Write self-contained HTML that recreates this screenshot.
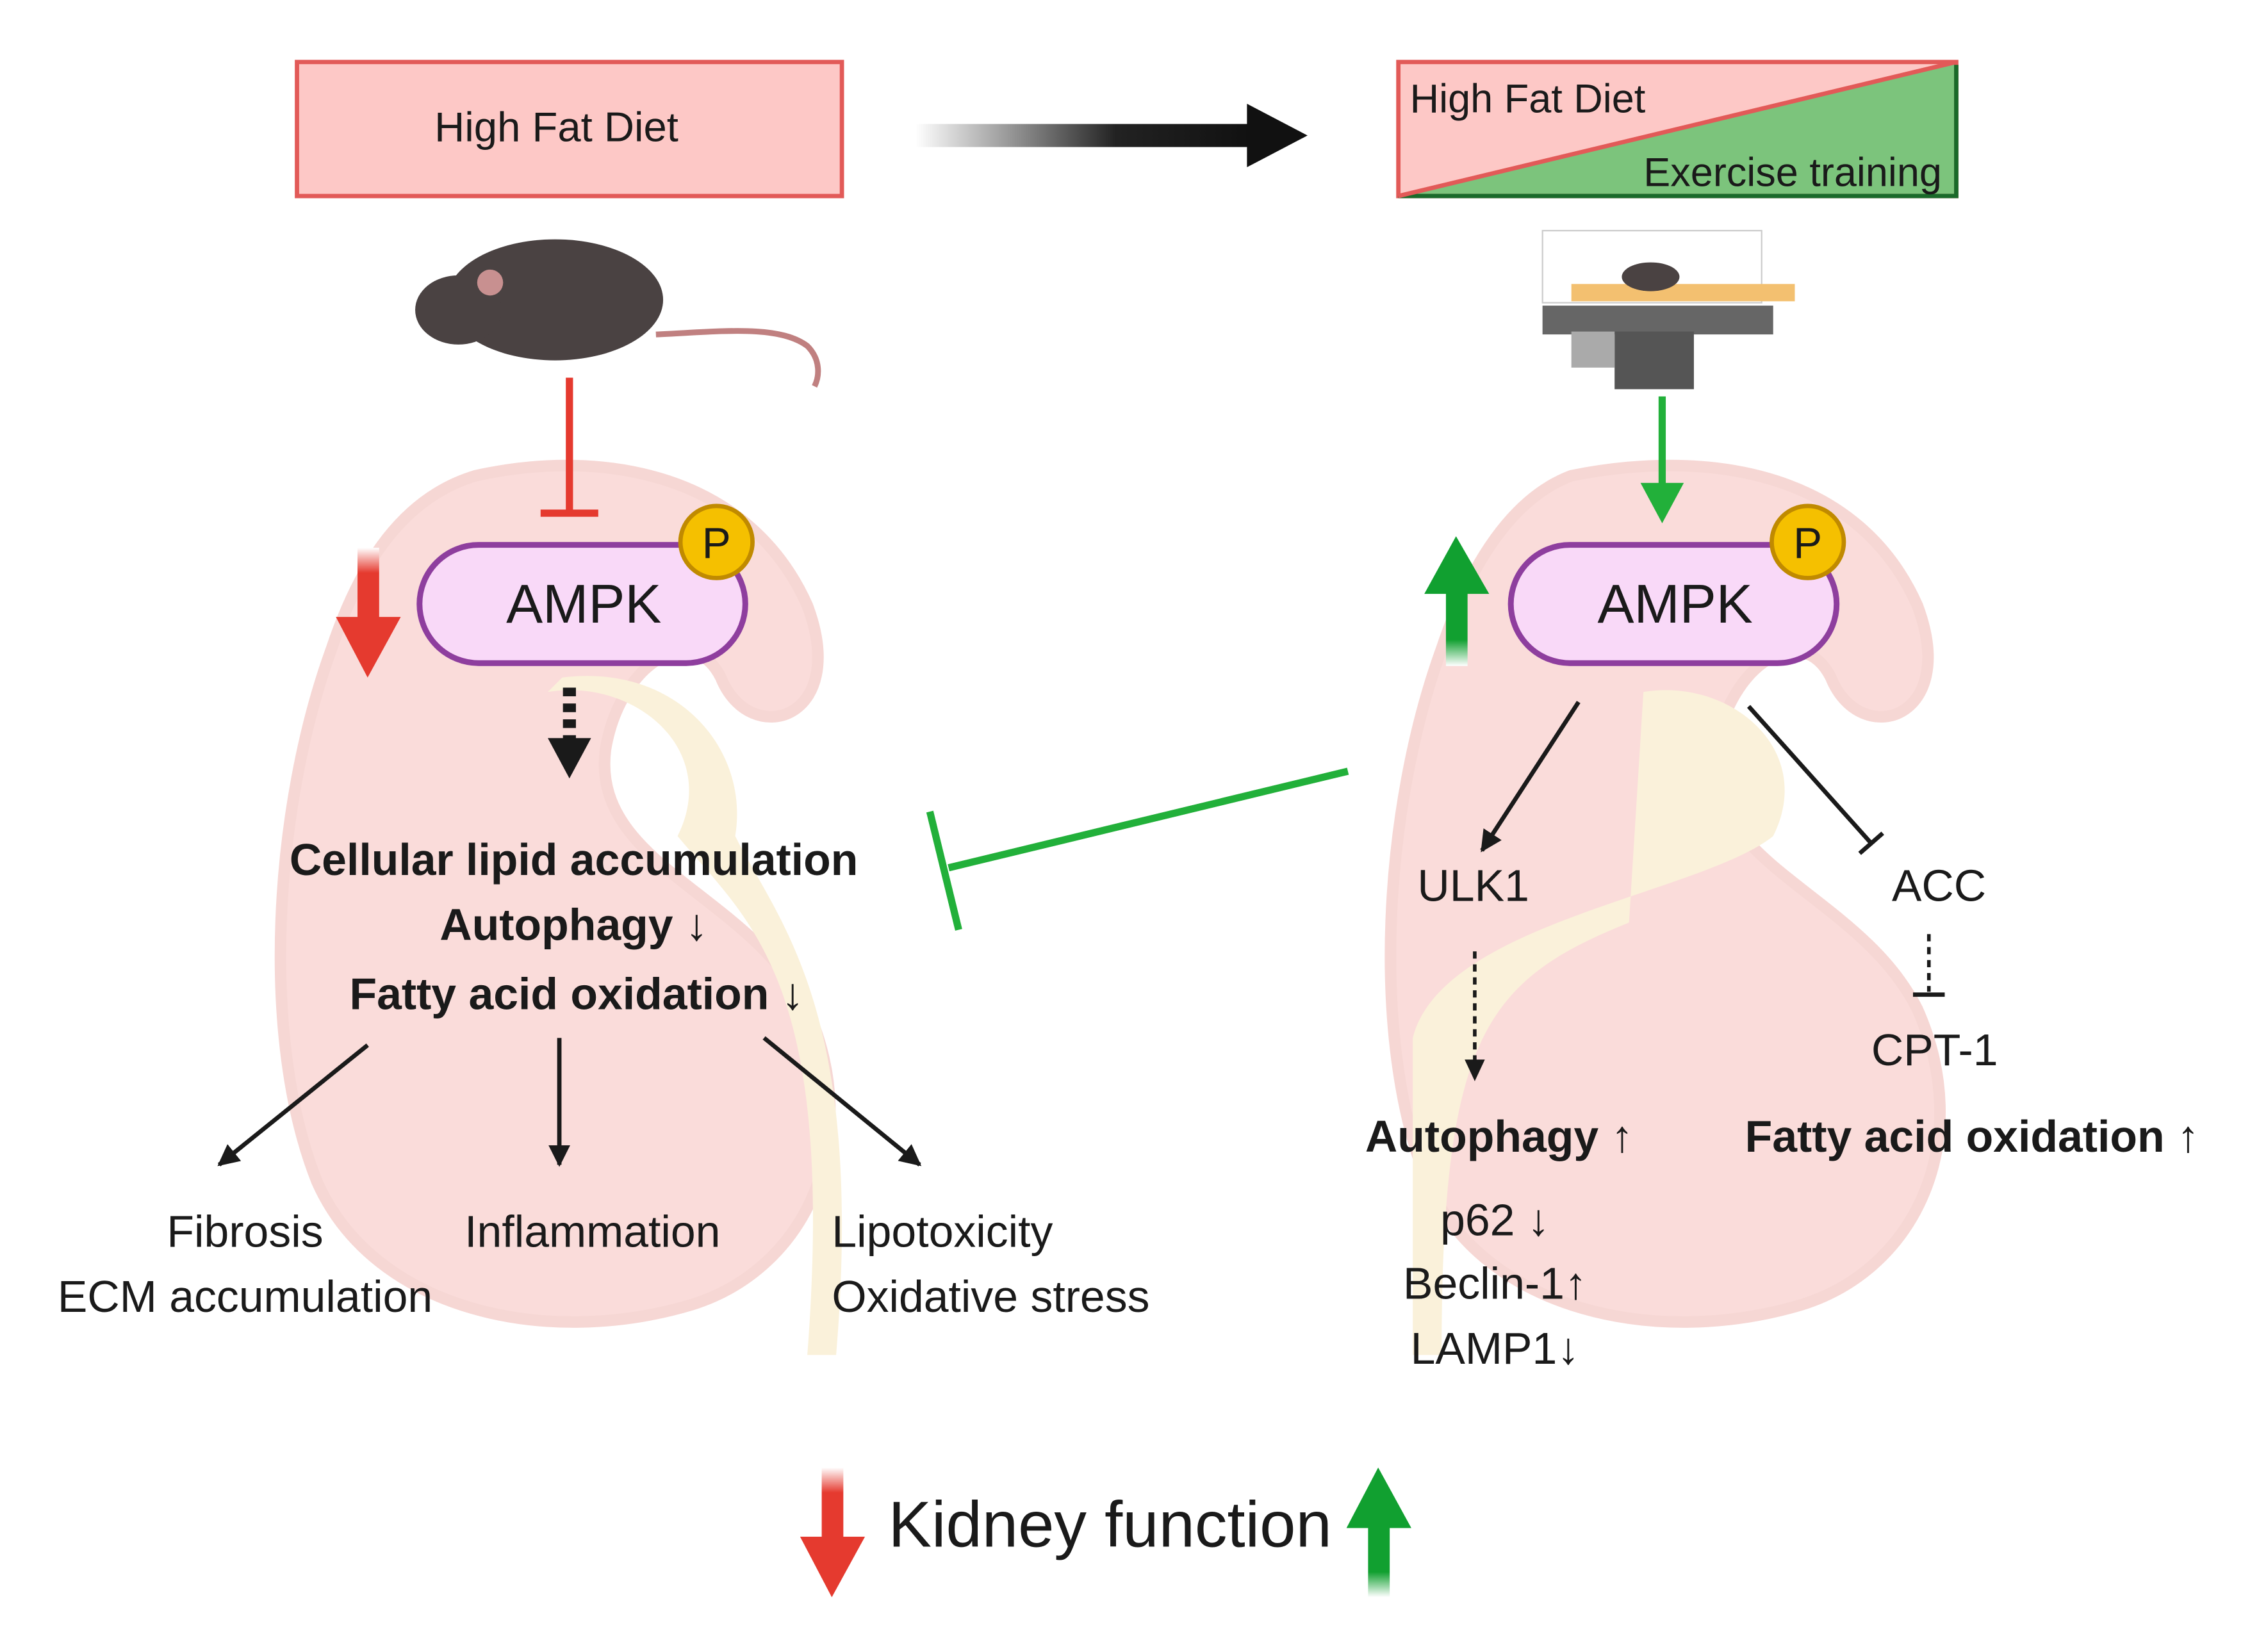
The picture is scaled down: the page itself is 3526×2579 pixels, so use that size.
<!DOCTYPE html>
<html><head><meta charset="utf-8"><style>
html,body{margin:0;padding:0;background:#fff;width:3526px;height:2579px;overflow:hidden}
svg{display:block}
text{font-family:"Liberation Sans",sans-serif;fill:#1a1a1a}
.b{font-weight:bold}
</style></head><body>
<svg width="3526" height="2579" viewBox="0 0 1567 1146" preserveAspectRatio="none" xmlns="http://www.w3.org/2000/svg">
<defs>
<linearGradient id="ga" x1="0" x2="1"><stop offset="0" stop-color="#fff"/><stop offset="0.6" stop-color="#222"/><stop offset="1" stop-color="#111"/></linearGradient>
<linearGradient id="gr" x1="0" y1="0" x2="0" y2="1"><stop offset="0" stop-color="#fff"/><stop offset="0.35" stop-color="#e53a2f"/><stop offset="1" stop-color="#e53a2f"/></linearGradient>
<linearGradient id="gg" x1="0" y1="1" x2="0" y2="0"><stop offset="0" stop-color="#fff"/><stop offset="0.35" stop-color="#11a030"/><stop offset="1" stop-color="#11a030"/></linearGradient>
<marker id="ah" viewBox="0 0 10 10" refX="9" refY="5" markerWidth="5" markerHeight="5" orient="auto"><path d="M0,0L10,5L0,10z" fill="#1a1a1a"/></marker>
</defs>
<g opacity="0.38">
<path d="M330,330 C420,310 520,330 560,420 C590,500 520,520 500,470 C480,430 430,460 420,520 C410,600 520,620 560,700 C600,790 560,880 480,905 C380,935 260,910 220,820 C180,720 190,560 230,450 C250,390 280,345 330,330Z" fill="#f4a6a0" stroke="#e89890" stroke-width="8"/>
<path d="M1090,330 C1190,310 1290,330 1330,420 C1360,500 1290,520 1270,470 C1250,430 1200,460 1190,520 C1180,600 1290,620 1330,700 C1370,790 1330,880 1250,905 C1150,935 1030,910 990,820 C950,720 960,560 1000,450 C1020,390 1050,345 1090,330Z" fill="#f4a6a0" stroke="#e89890" stroke-width="8"/>
<path d="M380,480 C440,470 500,520 470,580 C520,640 580,680 560,940 L580,940 C600,700 540,640 510,580 C520,520 470,460 390,470Z" fill="#f3dba0"/>
<path d="M1140,480 C1200,470 1260,520 1230,580 C1180,620 1000,640 980,720 L980,940 L1000,940 C1000,720 1030,680 1130,640Z" fill="#f3dba0"/>
</g>
<rect x="206" y="43" width="378" height="93" fill="#fdc8c6" stroke="#e25a58" stroke-width="3"/>
<text x="386" y="98" font-size="29" text-anchor="middle">High Fat Diet</text>
<rect x="635" y="86" width="232" height="16" fill="url(#ga)"/>
<path d="M865,72 L907,94 L865,116Z" fill="#111"/>
<path d="M970,43 L1357,43 L970,136Z" fill="#fdc8c6"/>
<path d="M1357,43 L1357,136 L970,136Z" fill="#7cc47c"/>
<rect x="970" y="43" width="387" height="93" fill="none" stroke="#e25a58" stroke-width="3"/>
<path d="M970,136L1357,136L1357,45" fill="none" stroke="#1a6a2a" stroke-width="3"/>
<line x1="970" y1="136" x2="1357" y2="43" stroke="#e25a58" stroke-width="3"/>
<text x="978" y="78" font-size="28">High Fat Diet</text>
<text x="1347" y="129" font-size="28" text-anchor="end">Exercise training</text>
<ellipse cx="385" cy="208" rx="75" ry="42" fill="#4a4242"/>
<ellipse cx="318" cy="215" rx="30" ry="24" fill="#4a4242"/>
<circle cx="340" cy="196" r="9" fill="#c89090"/>
<path d="M455,232 C500,230 540,225 560,240 C570,250 568,262 565,268" fill="none" stroke="#c08080" stroke-width="4"/>
<rect x="1070" y="160" width="152" height="50" fill="none" stroke="#ccc" stroke-width="1"/>
<rect x="1070" y="212" width="160" height="20" fill="#666"/>
<rect x="1090" y="197" width="155" height="12" fill="#f3c070"/>
<rect x="1120" y="230" width="55" height="40" fill="#555"/>
<rect x="1090" y="230" width="30" height="25" fill="#aaa"/>
<ellipse cx="1145" cy="192" rx="20" ry="10" fill="#4a4242"/>
<line x1="395" y1="262" x2="395" y2="355" stroke="#e53a2f" stroke-width="5"/>
<line x1="375" y1="356" x2="415" y2="356" stroke="#e53a2f" stroke-width="5"/>
<rect x="248" y="380" width="15" height="50" fill="url(#gr)"/>
<path d="M233,428 L278,428 L255,470Z" fill="#e53a2f"/>
<rect x="291" y="378" width="226" height="82" rx="41" fill="#f9d9f8" stroke="#8e3e9e" stroke-width="4"/>
<text x="405" y="432" font-size="38" text-anchor="middle">AMPK</text>
<circle cx="497" cy="376" r="25" fill="#f5c000" stroke="#c08a00" stroke-width="3"/>
<text x="497" y="387" font-size="30" text-anchor="middle">P</text>
<line x1="395" y1="477" x2="395" y2="515" stroke="#1a1a1a" stroke-width="9" stroke-dasharray="6,5"/>
<path d="M380,512 L410,512 L395,540Z" fill="#1a1a1a"/>
<text class="b" x="398" y="607" font-size="31" text-anchor="middle">Cellular lipid accumulation</text>
<text class="b" x="398" y="652" font-size="31" text-anchor="middle">Autophagy ↓</text>
<text class="b" x="400" y="700" font-size="31" text-anchor="middle">Fatty acid oxidation ↓</text>
<line x1="255" y1="725" x2="152" y2="808" stroke="#1a1a1a" stroke-width="3" marker-end="url(#ah)"/>
<line x1="388" y1="720" x2="388" y2="808" stroke="#1a1a1a" stroke-width="3" marker-end="url(#ah)"/>
<line x1="530" y1="720" x2="638" y2="808" stroke="#1a1a1a" stroke-width="3" marker-end="url(#ah)"/>
<text x="170" y="865" font-size="31" text-anchor="middle">Fibrosis</text>
<text x="170" y="910" font-size="31" text-anchor="middle">ECM accumulation</text>
<text x="411" y="865" font-size="31" text-anchor="middle">Inflammation</text>
<text x="577" y="865" font-size="31">Lipotoxicity</text>
<text x="577" y="910" font-size="31">Oxidative stress</text>
<line x1="935" y1="535" x2="658" y2="602" stroke="#22b03a" stroke-width="5"/>
<line x1="645" y1="563" x2="665" y2="645" stroke="#22b03a" stroke-width="5"/>
<line x1="1153" y1="275" x2="1153" y2="340" stroke="#22b03a" stroke-width="5"/>
<path d="M1138,335 L1168,335 L1153,363Z" fill="#22b03a"/>
<rect x="1003" y="410" width="15" height="52" fill="url(#gg)"/>
<path d="M988,412 L1033,412 L1010,372Z" fill="#11a030"/>
<rect x="1048" y="378" width="226" height="82" rx="41" fill="#f9d9f8" stroke="#8e3e9e" stroke-width="4"/>
<text x="1162" y="432" font-size="38" text-anchor="middle">AMPK</text>
<circle cx="1254" cy="376" r="25" fill="#f5c000" stroke="#c08a00" stroke-width="3"/>
<text x="1254" y="387" font-size="30" text-anchor="middle">P</text>
<line x1="1095" y1="487" x2="1028" y2="590" stroke="#1a1a1a" stroke-width="3" marker-end="url(#ah)"/>
<line x1="1213" y1="490" x2="1298" y2="585" stroke="#1a1a1a" stroke-width="3"/>
<line x1="1290" y1="592" x2="1306" y2="578" stroke="#1a1a1a" stroke-width="3"/>
<text x="1022" y="625" font-size="31" text-anchor="middle">ULK1</text>
<text x="1345" y="625" font-size="31" text-anchor="middle">ACC</text>
<line x1="1023" y1="660" x2="1023" y2="740" stroke="#1a1a1a" stroke-width="2.5" stroke-dasharray="5,4"/>
<path d="M1016,735 L1030,735 L1023,750Z" fill="#1a1a1a"/>
<line x1="1338" y1="648" x2="1338" y2="688" stroke="#1a1a1a" stroke-width="2.5" stroke-dasharray="5,4"/>
<line x1="1327" y1="690" x2="1349" y2="690" stroke="#1a1a1a" stroke-width="3"/>
<text x="1342" y="739" font-size="31" text-anchor="middle">CPT-1</text>
<text class="b" x="1040" y="799" font-size="31" text-anchor="middle">Autophagy ↑</text>
<text class="b" x="1368" y="799" font-size="31" text-anchor="middle">Fatty acid oxidation ↑</text>
<text x="1037" y="857" font-size="31" text-anchor="middle">p62 ↓</text>
<text x="1037" y="901" font-size="31" text-anchor="middle">Beclin-1↑</text>
<text x="1037" y="946" font-size="31" text-anchor="middle">LAMP1↓</text>
<rect x="570" y="1018" width="15" height="50" fill="url(#gr)"/>
<path d="M555,1066 L600,1066 L577,1108Z" fill="#e53a2f"/>
<text x="770" y="1073" font-size="45" text-anchor="middle">Kidney function</text>
<rect x="949" y="1058" width="15" height="50" fill="url(#gg)"/>
<path d="M934,1060 L979,1060 L956,1018Z" fill="#11a030"/>
</svg>
</body></html>
